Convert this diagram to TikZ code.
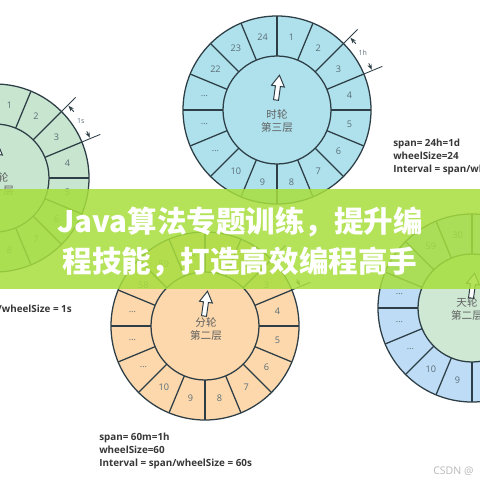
\documentclass[tikz,border=0pt]{standalone}
\usepackage{fontspec}
\setmainfont{Open Sans}
\newfontfamily\cjk{Noto Sans CJK SC}
\usepackage{tikz}
\usetikzlibrary{arrows.meta,calc}

\definecolor{hourfill}{RGB}{174,225,236}
\definecolor{secfill}{RGB}{200,229,208}
\definecolor{minfill}{RGB}{252,216,172}
\definecolor{dayring}{RGB}{190,220,245}
\definecolor{dayhub}{RGB}{206,232,212}
\definecolor{wheelline}{RGB}{45,62,70}
\definecolor{numgray}{RGB}{90,110,120}
\definecolor{specgray}{RGB}{55,55,55}
\definecolor{bannergreen}{RGB}{167,223,61}

% one wheel: centre name, ring fill, hub fill, slot labels (clockwise from top)
\newcommand{\timewheel}[4]{%
  \fill[#2] (#1) circle[radius=94];
  \fill[#3] (#1) circle[radius=54];
  \foreach \k in {0,...,15}
    \draw[spoke] ($(#1)+(-90+22.5*\k:54)$) -- ($(#1)+(-90+22.5*\k:94)$);
  \draw[spoke] (#1) circle[radius=94] (#1) circle[radius=54];
  \foreach \lab [count=\i] in {#4}
    \node[slotnum] at ($(#1)+(-101.25+22.5*\i:74)$) {\lab};
}
% hollow pointer, from its base
\newcommand{\handarrow}[1]{%
  \filldraw[hand, shift={(#1)}, rotate=-8]
    (-2.5,0) -- (-2.5,-14) -- (-6.5,-14) -- (0,-25) -- (6.5,-14)
    -- (2.5,-14) -- (2.5,0) -- cycle;
}
% width of one slot, marked on the rim
\newcommand{\slotmark}[1]{%
  \draw[dimline] ($(#1)+(-45:94)$) -- ($(#1)+(-45:114)$);
  \draw[dimline] ($(#1)+(-22.5:94)$) -- ($(#1)+(-22.5:114)$);
  \draw[dimarrow] ($(#1)+(-40:103)$) -- ($(#1)+(-44.5:103)$);
  \draw[dimarrow] ($(#1)+(-27:103)$) -- ($(#1)+(-23:103)$);
}

\begin{document}
\begin{tikzpicture}[x=0.025cm, y=-0.025cm,
  spoke/.style={draw=wheelline, line width=0.9pt},
  slotnum/.style={font=\fontsize{6.5}{7}\selectfont, text=numgray, inner sep=0},
  hubtext/.style={font=\cjk\fontsize{7.5}{9.2}\selectfont, text=specgray!80,
    align=center, inner sep=0},
  hand/.style={fill=white, draw=wheelline, line width=0.7pt},
  dimline/.style={draw=wheelline, line width=0.6pt},
  dimarrow/.style={draw=wheelline, line width=0.6pt,
    -{Stealth[length=4pt,width=3pt]}},
  dimtext/.style={font=\fontsize{5}{6}\selectfont, text=numgray, inner sep=0},
  spec/.style={font=\bfseries\fontsize{7}{9.2}\selectfont, text=specgray,
    align=left, inner sep=0},
  banner/.style={font=\cjk\bfseries\fontsize{21}{28.4}\selectfont,
    text=white, align=center}
]
\useasboundingbox (0,0) rectangle (480,480);
\clip (0,0) rectangle (480,480);
\fill[white] (0,0) rectangle (480,480);

% wheel centres
\coordinate (sec) at (-5,178);
\coordinate (hour) at (277,110);
\coordinate (min) at (205,326);
\coordinate (day) at (472,308);

% Second wheel (left, cut)
\timewheel{sec}{secfill}{secfill}{1,2,3,4,5,6,7,8,9,10,…,…,…,58,59,60}
\node[hubtext] (sectext) at (-2,184) {秒轮\\第一层};
\coordinate (sechand) at ($(sec)+(-1,-10)$);
\handarrow{sechand}
\slotmark{sec}
\node[dimtext] (secdim) at ($(sec)+(-33.5:103)$) {1s};

% Hour wheel (top)
\timewheel{hour}{hourfill}{hourfill}{1,2,3,4,5,6,7,8,9,10,…,…,…,22,23,24}
\node[hubtext] (hourtext) at (277,121) {时轮\\第三层};
\coordinate (hourhand) at ($(hour)+(-1,-10)$);
\handarrow{hourhand}
\slotmark{hour}
\node[dimtext] (hourdim) at ($(hour)+(-33.5:103)$) {1h};

% Minute wheel (bottom)
\timewheel{min}{minfill}{minfill}{1,2,3,4,5,6,7,8,9,10,…,…,…,58,59,60}
\node[hubtext] (mintext) at (206,329) {分轮\\第二层};
\coordinate (minhand) at ($(min)+(-1,-10)$);
\handarrow{minhand}
\slotmark{min}

% Day wheel (right, cut)
\timewheel{day}{dayring}{dayhub}{1,2,3,4,5,6,7,8,9,10,…,…,…,…,59,30}
\node[hubtext] (daytext) at (467,309) {天轮\\第二层};
\coordinate (dayhand) at ($(day)+(-1,-10)$);
\handarrow{dayhand}

% Banner
\fill[bannergreen, fill opacity=0.85] (0,189) rectangle (480,289);
\node[banner] (title) at (240,242) {Java算法专题训练，提升编\\程技能，打造高效编程高手};

% Sizes
\node[spec, anchor=south east] (secspec) at (72,315)
  {span= 60s=1m\\wheelSize=60\\Interval = span/wheelSize = 1s};
\node[spec, anchor=north west] (hourspec) at (393,139)
  {span= 24h=1d\\wheelSize=24\\Interval = span/wheelSize = 1h};
\node[spec, anchor=north west] (minspec) at (99,433)
  {span= 60m=1h\\wheelSize=60\\Interval = span/wheelSize = 60s};

% Watermark
\node[font=\fontsize{7.5}{9}\selectfont, text=gray!55, anchor=west,
  inner sep=0] (mark) at (433,471) {CSDN @};

\end{tikzpicture}
\end{document}
